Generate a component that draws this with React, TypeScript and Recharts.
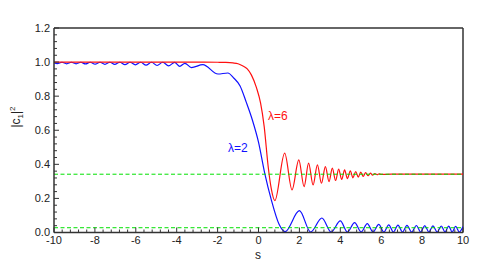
import { Line, LineChart, ReferenceLine, XAxis, YAxis } from 'recharts';

// λ=6 curve (red)
const sRed = [
  -10, -6, -3, -2, -1.6, -1.25, -1.0, -0.76, -0.55, -0.35, -0.1, 0.1, 0.28, 0.47, 0.62, 0.8,
  1.28, 1.64, 1.97, 2.23, 2.45, 2.67, 2.88, 3.08, 3.27, 3.45, 3.61, 3.77, 3.92, 4.07, 4.21,
  4.35, 4.49, 4.62, 4.75, 4.88, 5.0, 5.12, 5.24, 5.36, 5.47, 5.58, 5.69, 5.8, 5.9, 6.0, 6.5, 8,
  10,
];
const redVals = [
  1.0, 1.0, 1.0, 0.999, 0.998, 0.995, 0.99, 0.977, 0.96, 0.925, 0.85, 0.76, 0.62, 0.39, 0.26,
  0.187, 0.466, 0.25, 0.426, 0.269, 0.407, 0.279, 0.397, 0.289, 0.387, 0.299, 0.378, 0.305,
  0.372, 0.311, 0.367, 0.316, 0.362, 0.321, 0.358, 0.325, 0.354, 0.329, 0.351, 0.333, 0.348,
  0.336, 0.346, 0.339, 0.344, 0.341, 0.342, 0.342, 0.342,
];

// λ=2 curve (blue)
const sBlue = [
  -10, -9.84, -9.61, -9.38, -9.15, -8.92, -8.69, -8.46, -8.23, -7.99, -7.75, -7.51, -7.27,
  -7.03, -6.78, -6.53, -6.28, -6.02, -5.76, -5.5, -5.23, -4.96, -4.68, -4.4, -4.1, -3.85, -3.6,
  -3.28, -2.72, -1.98, -1.5, -1.2, -0.9, -0.6, -0.3, 0, 0.3, 0.63, 1.0, 1.3, 2.0, 2.55, 3.1,
  3.55, 4.0, 4.35, 4.7, 5.02, 5.32, 5.6, 5.88, 6.13, 6.37, 6.6, 6.82, 7.04, 7.26, 7.49, 7.72,
  7.93, 8.13, 8.33, 8.53, 8.74, 8.94, 9.12, 9.3, 9.47, 9.64, 9.82, 10,
];
const blueVals = [
  0.995, 0.991, 0.999, 0.99, 0.999, 0.99, 0.999, 0.989, 0.999, 0.988, 0.999, 0.987, 0.999,
  0.986, 0.999, 0.985, 0.999, 0.984, 0.999, 0.982, 0.999, 0.98, 0.999, 0.978, 0.998, 0.975,
  0.993, 0.968, 0.985, 0.93, 0.936, 0.905, 0.86, 0.765, 0.66, 0.53, 0.35, 0.19, 0.05, 0.005,
  0.128, 0.003, 0.085, 0.003, 0.068, 0.003, 0.058, 0.003, 0.052, 0.003, 0.048, 0.003, 0.045,
  0.003, 0.043, 0.003, 0.042, 0.003, 0.041, 0.003, 0.04, 0.003, 0.039, 0.003, 0.038, 0.003,
  0.037, 0.003, 0.036, 0.003, 0.035,
];

// asymptotic levels (green dashed)
const levelS = [-10, 10];
const upperLevel = [0.342, 0.342];
const lowerLevel = [0.028, 0.028];

const xMajor = [-10, -8, -6, -4, -2, 0, 2, 4, 6, 8, 10];
const yMajor = [0, 0.2, 0.4, 0.6, 0.8, 1.0, 1.2];

const zip = (s: number[], v: number[]) => s.map((x, i) => ({ s: x, v: v[i] }));

const subdivide = (major: number[], n: number) => {
  const out: number[] = [];
  for (let i = 0; i < major.length - 1; i++) {
    const step = (major[i + 1] - major[i]) / n;
    for (let k = 0; k < n; k++) out.push(+(major[i] + k * step).toFixed(4));
  }
  out.push(major[major.length - 1]);
  return out;
};

const xTicks = subdivide(xMajor, 5);
const yTicks = subdivide(yMajor, 5);
const isMajor = (v: number, list: number[]) => list.some((m) => Math.abs(m - v) < 1e-6);

const AXIS = '#333';
const FONT = '"Liberation Sans", Arial, sans-serif';

function YTick(props: any) {
  const { x, y, payload } = props;
  const major = isMajor(payload.value, yMajor);
  const ax = x + 4;
  return (
    <g>
      <line x1={ax} x2={ax + (major ? 5 : 3)} y1={y} y2={y} stroke={AXIS} strokeWidth={1} />
      {major && (
        <text x={x} y={y} dy="0.35em" textAnchor="end" fontSize={11} fontFamily={FONT} fill="#222">
          {payload.value.toFixed(1)}
        </text>
      )}
    </g>
  );
}

function XTick(props: any) {
  const { x, y, payload } = props;
  const major = isMajor(payload.value, xMajor);
  const ay = y - 4;
  return (
    <g>
      <line x1={x} x2={x} y1={ay} y2={ay - (major ? 5 : 3)} stroke={AXIS} strokeWidth={1} />
      {major && (
        <text x={x} y={y} dy="0.71em" textAnchor="middle" fontSize={11} fontFamily={FONT} fill="#222">
          {payload.value}
        </text>
      )}
    </g>
  );
}

export default function App() {
  return (
    <div style={{ position: 'absolute', left: 0, top: 0, width: 491, height: 271, background: '#fff' }}>
      <LineChart width={491} height={271} margin={{ top: 28, right: 28, bottom: 0, left: 0 }}>
        <XAxis
          type="number"
          dataKey="s"
          domain={[-10, 10]}
          ticks={xTicks}
          interval={0}
          tick={<XTick />}
          tickLine={false}
          tickSize={0}
          tickMargin={4}
          height={38.5}
          axisLine={{ stroke: AXIS, strokeWidth: 1.5 }}
          allowDataOverflow
        />
        <YAxis
          type="number"
          dataKey="v"
          domain={[0, 1.2]}
          ticks={yTicks}
          interval={0}
          tick={<YTick />}
          tickLine={false}
          tickSize={0}
          tickMargin={4}
          width={54}
          axisLine={{ stroke: AXIS, strokeWidth: 1.5 }}
          allowDataOverflow
        />
        <ReferenceLine y={1.2} stroke={AXIS} strokeWidth={1.5} />
        <ReferenceLine x={10} stroke={AXIS} strokeWidth={1.5} />
        <Line
          data={zip(sBlue, blueVals)}
          dataKey="v"
          type="monotone"
          stroke="#1010ff"
          strokeWidth={1.2}
          dot={false}
          isAnimationActive={false}
        />
        <Line
          data={zip(sRed, redVals)}
          dataKey="v"
          type="monotone"
          stroke="#ff1010"
          strokeWidth={1.2}
          dot={false}
          isAnimationActive={false}
        />
        <Line
          data={zip(levelS, upperLevel)}
          dataKey="v"
          stroke="#00e000"
          strokeWidth={1}
          strokeDasharray="4 2.5"
          dot={false}
          isAnimationActive={false}
        />
        <Line
          data={zip(levelS, lowerLevel)}
          dataKey="v"
          stroke="#00e000"
          strokeWidth={1}
          strokeDasharray="4 2.5"
          dot={false}
          isAnimationActive={false}
        />
      </LineChart>
      <svg
        width={491}
        height={271}
        style={{ position: 'absolute', left: 0, top: 0, pointerEvents: 'none' }}
        fontFamily={FONT}
      >
        <text transform="rotate(-90 20 117)" x={20} y={117} textAnchor="middle" fontSize={12} fill="#222">
          |c<tspan fontSize={8} dy={3}>1</tspan>
          <tspan dy={-3}>|</tspan>
          <tspan fontSize={8} dy={-5}>2</tspan>
        </text>
        <text x={258} y={259} textAnchor="middle" fontSize={12} fill="#222">
          s
        </text>
        <text x={268} y={120} fontSize={12} fill="#ff1010">
          λ=6
        </text>
        <text x={228} y={152} fontSize={12} fill="#1010ff">
          λ=2
        </text>
      </svg>
    </div>
  );
}
